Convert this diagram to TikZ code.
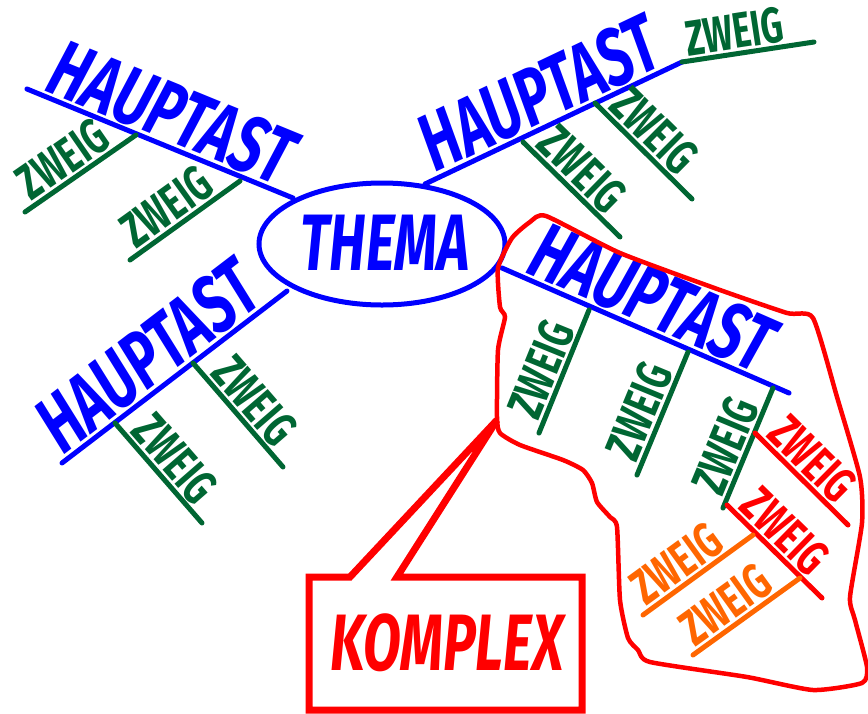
\documentclass[tikz,border=0pt]{standalone}
\usepackage{fontspec}
\newfontfamily\hand[FakeStretch=0.69]{Fira Sans}
\usetikzlibrary{shapes.geometric}
\definecolor{mmblue}{RGB}{0,0,255}
\definecolor{mmgreen}{RGB}{0,102,51}
\definecolor{mmred}{RGB}{255,0,0}
\definecolor{mmorange}{RGB}{255,102,0}
\tikzset{
 haupt/.style={draw=mmblue, line width=5pt, line cap=round},
 hauptlabel/.style={sloped, above, inner sep=1.5pt, text=mmblue, font=\hand\bfseries\itshape\fontsize{81}{81}\selectfont},
 zweigline/.style={line width=5pt, line cap=round},
 zweiglabel/.style={sloped, above, inner sep=1.5pt, font=\hand\bfseries\fontsize{50}{50}\selectfont},
 bigword/.style={inner sep=0pt, font=\hand\bfseries\itshape\fontsize{80}{80}\selectfont},
}
\begin{document}
\begin{tikzpicture}[x=1pt,y=-1pt]
\useasboundingbox (0,0) rectangle (868,713);

% ---------- centre ----------
\node (thema) [ellipse, draw=mmblue, line width=5pt, minimum width=246pt, minimum height=122pt, inner sep=0pt] at (382,244) {};
\node (thematext) [bigword, text=mmblue] at (385,243) {THEMA};

% ---------- top-left ----------
\coordinate (tlA) at (27,89);
\coordinate (tlB) at (293,198);
\draw[haupt] (tlA) -- node[hauptlabel, pos=0.5] (tlH) {HAUPTAST} (tlB);
\coordinate (tlz1A) at (25,212); \coordinate (tlz1B) at (136,135);
\draw[zweigline, draw=mmgreen] (tlz1A) -- node[zweiglabel, text=mmgreen, pos=0.45] (tlz1) {ZWEIG} (tlz1B);
\coordinate (tlz2A) at (130,260); \coordinate (tlz2B) at (240,181);
\draw[zweigline, draw=mmgreen] (tlz2A) -- node[zweiglabel, text=mmgreen, pos=0.45] (tlz2) {ZWEIG} (tlz2B);

% ---------- bottom-left ----------
\coordinate (blA) at (62,463);
\coordinate (blB) at (287,291);
\draw[haupt] (blA) -- node[hauptlabel, pos=0.47] (blH) {HAUPTAST} (blB);
\coordinate (blz1A) at (115,423); \coordinate (blz1B) at (202,523);
\draw[zweigline, draw=mmgreen] (blz1A) -- node[zweiglabel, text=mmgreen, pos=0.5] (blz1) {ZWEIG} (blz1B);
\coordinate (blz2A) at (193,363); \coordinate (blz2B) at (283,467);
\draw[zweigline, draw=mmgreen] (blz2A) -- node[zweiglabel, text=mmgreen, pos=0.5] (blz2) {ZWEIG} (blz2B);

% ---------- top-right ----------
\coordinate (trA) at (425,184);
\coordinate (trB) at (682,62);
\draw[haupt] (trA) -- node[hauptlabel, pos=0.5] (trH) {HAUPTAST} (trB);
\coordinate (trz0B) at (814,42);
\draw[zweigline, draw=mmgreen] (trB) -- node[zweiglabel, text=mmgreen, pos=0.42] (trz0) {ZWEIG} (trz0B);
\coordinate (trz1A) at (523,142); \coordinate (trz1B) at (620,237);
\draw[zweigline, draw=mmgreen] (trz1A) -- node[zweiglabel, text=mmgreen, pos=0.45] (trz1) {ZWEIG} (trz1B);
\coordinate (trz2A) at (595,103); \coordinate (trz2B) at (692,199);
\draw[zweigline, draw=mmgreen] (trz2A) -- node[zweiglabel, text=mmgreen, pos=0.45] (trz2) {ZWEIG} (trz2B);

% ---------- right (complex) ----------
\coordinate (rA) at (502,268);
\coordinate (rB) at (789,393);
\draw[haupt] (rA) -- node[hauptlabel, pos=0.48] (rH) {HAUPTAST} (rB);
\coordinate (rz1A) at (539,433); \coordinate (rz1B) at (589,310);
\draw[zweigline, draw=mmgreen] (rz1A) -- node[zweiglabel, text=mmgreen, pos=0.45] (rz1) {ZWEIG} (rz1B);
\coordinate (rz2A) at (637,475); \coordinate (rz2B) at (688,352);
\draw[zweigline, draw=mmgreen] (rz2A) -- node[zweiglabel, text=mmgreen, pos=0.45] (rz2) {ZWEIG} (rz2B);
\coordinate (rz3A) at (723,508); \coordinate (rz3B) at (773,388);
\draw[zweigline, draw=mmgreen] (rz3A) -- node[zweiglabel, text=mmgreen, pos=0.45] (rz3) {ZWEIG} (rz3B);
\coordinate (rr1A) at (755,433); \coordinate (rr1B) at (848,525);
\draw[zweigline, draw=mmred] (rr1A) -- node[zweiglabel, text=mmred, pos=0.45] (rr1) {ZWEIG} (rr1B);
\coordinate (rr2A) at (727,505); \coordinate (rr2B) at (822,598);
\draw[zweigline, draw=mmred] (rr2A) -- node[zweiglabel, text=mmred, pos=0.45] (rr2) {ZWEIG} (rr2B);
\coordinate (ro1A) at (643,615); \coordinate (ro1B) at (753,535);
\draw[zweigline, draw=mmorange] (ro1A) -- node[zweiglabel, text=mmorange, pos=0.42] (ro1) {ZWEIG} (ro1B);
\coordinate (ro2A) at (693,655); \coordinate (ro2B) at (800,578);
\draw[zweigline, draw=mmorange] (ro2A) -- node[zweiglabel, text=mmorange, pos=0.42] (ro2) {ZWEIG} (ro2B);

% ---------- red outline ----------
\draw[mmred, line width=4.5pt] plot[smooth cycle, tension=0.35] coordinates {
(498,268) (512,238) (530,222) (546,216) (620,253) (720,290) (787,313) (813,318)
(837,397) (860,477) (862,523) (850,597) (855,620) (867,667) (862,683) (813,690)
(747,677) (650,662) (638,650) (628,638) (620,600) (617,527) (610,517) (597,502)
(592,483) (583,470) (563,460) (520,445) (500,433) (497,417) (498,350) (505,317) (500,307)};

% ---------- callout ----------
\coordinate (tip) at (497,420);
\draw[mmred, line width=7pt, line join=miter]
 (309,577) -- (350,577) -- (tip) -- (397,577) -- (582,577) -- (582,710) -- (309,710) -- cycle;
\node (komplex) [bigword, text=mmred] at (447,643) {KOMPLEX};
\end{tikzpicture}
\end{document}
